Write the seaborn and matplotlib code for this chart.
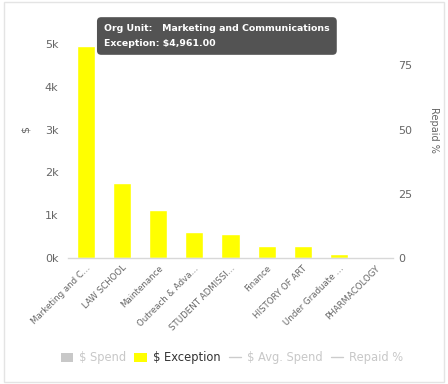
import matplotlib
matplotlib.use("Agg")
import matplotlib.pyplot as plt
import seaborn as sns
import pandas as pd
from matplotlib.patches import Patch, Rectangle
from matplotlib.lines import Line2D

# Exception spend per org unit
org_units = ["Marketing and C…", "LAW SCHOOL", "Maintenance", "Outreach & Adva…",
             "STUDENT ADMISSI…", "Finance", "HISTORY OF ART", "Under Graduate …",
             "PHARMACOLOGY"]
exception = [4961, 1740, 1130, 600, 570, 290, 270, 85, 0]
left_ticks = [0, 1000, 2000, 3000, 4000, 5000]
left_tick_labels = ["0k", "1k", "2k", "3k", "4k", "5k"]
right_ticks = [0, 25, 50, 75]

df = pd.DataFrame({"org": org_units, "exception": exception})

sns.set_theme(style="white")
plt.rcParams["font.family"] = ["DejaVu Sans"]

fig = plt.figure(figsize=(4.48, 3.84), dpi=100)
ax = fig.add_axes([68 / 448, 1 - 258 / 384, (393 - 68) / 448, 257 / 384])

sns.barplot(data=df, x="org", y="exception", color="#ffff00", width=0.5,
            saturation=1, ax=ax)

ax.set_ylim(0, 6000)
ax.set_xlim(-0.5, len(org_units) - 0.5)
ax.set_yticks(left_ticks)
ax.set_yticklabels(left_tick_labels)
ax.set_ylabel("$", fontsize=8, color="#666666", rotation=90, labelpad=10)
ax.set_xlabel("")
ax.tick_params(axis="y", length=0, labelsize=8, labelcolor="#666666", pad=7)
ax.tick_params(axis="x", length=0, labelsize=6.2, labelcolor="#666666", pad=4)
for lbl in ax.get_xticklabels():
    lbl.set_rotation(45)
    lbl.set_ha("right")
    lbl.set_rotation_mode("anchor")

for side in ["top", "left", "right"]:
    ax.spines[side].set_visible(False)
ax.spines["bottom"].set_color("#d8d8d8")
ax.spines["bottom"].set_linewidth(1)

# Secondary axis for repaid percentage
ax2 = ax.twinx()
ax2.set_ylim(0, 100)
ax2.set_yticks(right_ticks)
ax2.tick_params(axis="y", length=0, labelsize=8, labelcolor="#666666", pad=4)
ax2.set_ylabel("Repaid %", fontsize=7, color="#666666", rotation=270, labelpad=19)
for side in ["top", "left", "right", "bottom"]:
    ax2.spines[side].set_visible(False)

# Hover tooltip for the top bar
fig.text(104 / 448, 1 - 36 / 384,
         "Org Unit:   Marketing and Communications\nException: $4,961.00",
         fontsize=6.75, color="white", fontweight="bold", va="center", ha="left",
         linespacing=1.8,
         bbox=dict(boxstyle="round,pad=0.75,rounding_size=0.45",
                   facecolor="#4a4a4a", edgecolor="none", alpha=0.95))

# Legend
handles = [
    Patch(facecolor="#c8c8c8", edgecolor="none"),
    Patch(facecolor="#ffff00", edgecolor="none"),
    Line2D([0], [0], color="#cccccc", lw=1),
    Line2D([0], [0], color="#cccccc", lw=1),
]
labels = ["$ Spend", "$ Exception", "$ Avg. Spend", "Repaid %"]
leg = fig.legend(handles, labels, loc="center", bbox_to_anchor=(232 / 448, 1 - 358 / 384),
                 ncol=4, frameon=False, fontsize=8.3, handlelength=1.1,
                 handleheight=0.9, handletextpad=0.5, columnspacing=0.7)
for i, t in enumerate(leg.get_texts()):
    t.set_color("#333333" if i == 1 else "#c8c8c8")

# Card border
fig.patches.append(Rectangle((0.008, 0.005), 0.984, 0.99, transform=fig.transFigure,
                             fill=False, edgecolor="#e4e4e4", lw=1))

fig.savefig("out.png", dpi=100)
